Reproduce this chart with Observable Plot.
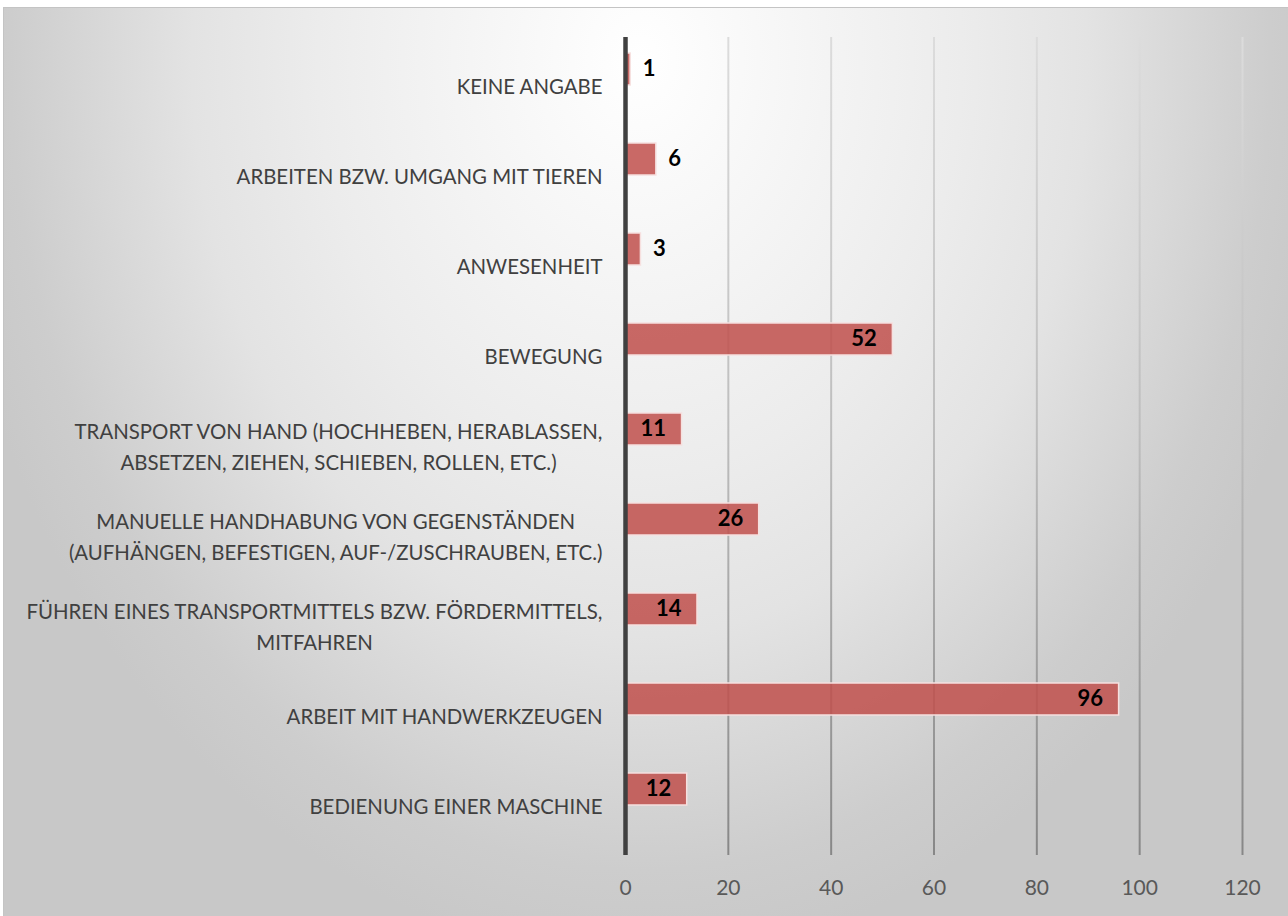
<!DOCTYPE html>
<html>
<head>
<meta charset="utf-8">
<script src="https://cdn.jsdelivr.net/npm/d3@7"></script>
<script src="https://cdn.jsdelivr.net/npm/@observablehq/plot@0.6"></script>
<style>
  html, body { margin: 0; padding: 0; background: #ffffff; overflow: hidden; }
  #frame {
    position: absolute; left: 3px; top: 7px; width: 1285px; height: 909px;
    border-top: 1px solid #c4c4c4; border-left: 1px solid #c4c4c4;
    background: radial-gradient(ellipse 700px 900px at 636px 52px, #ffffff 0%, #ececec 46%, #e3e3e3 64%, #cdcdcd 90%, #c8c8c8 100%);
  }
  #frame svg { display: block; background: transparent; }
</style>
</head>
<body>
<div id="frame"></div>
<script>
// Categories, top to bottom
const categories = [
  "KEINE ANGABE",
  "ARBEITEN BZW. UMGANG MIT TIEREN",
  "ANWESENHEIT",
  "BEWEGUNG",
  "TRANSPORT VON HAND (HOCHHEBEN, HERABLASSEN,\nABSETZEN, ZIEHEN, SCHIEBEN, ROLLEN, ETC.)",
  "MANUELLE HANDHABUNG VON GEGENSTÄNDEN\n(AUFHÄNGEN, BEFESTIGEN, AUF-/ZUSCHRAUBEN, ETC.)",
  "FÜHREN EINES TRANSPORTMITTELS BZW. FÖRDERMITTELS,\nMITFAHREN",
  "ARBEIT MIT HANDWERKZEUGEN",
  "BEDIENUNG EINER MASCHINE"
];
const values = [1, 6, 3, 52, 11, 26, 14, 96, 12];
const xTicks = [0, 20, 40, 60, 80, 100, 120];
const gridTicks = [20, 40, 60, 80, 100, 120];

const data = categories.map((c, i) => ({cat: c, value: values[i]}));
const FONT = "Lato, 'Open Sans', sans-serif";

const W = 1284, H = 908;
const M = {top: 29, right: 46, bottom: 61, left: 621};

const defsMark = (index, scales, vals, dims) => {
  const defs = d3.create("svg:defs");
  const g = defs.append("linearGradient")
    .attr("id", "gridGrad")
    .attr("gradientUnits", "userSpaceOnUse")
    .attr("x1", 0).attr("x2", 0)
    .attr("y1", dims.marginTop).attr("y2", dims.height - dims.marginBottom);
  g.append("stop").attr("offset", "0%").attr("stop-color", "#dcdcdc");
  g.append("stop").attr("offset", "50%").attr("stop-color", "#bcbcbc");
  g.append("stop").attr("offset", "100%").attr("stop-color", "#878787");
  return defs.node();
};

const chart = Plot.plot({
  width: W,
  height: H,
  marginTop: M.top,
  marginRight: M.right,
  marginBottom: M.bottom,
  marginLeft: M.left,
  style: {background: "transparent", fontFamily: FONT},
  x: {domain: [0, 120], ticks: xTicks},
  y: {domain: categories, padding: 0},
  marks: [
    defsMark,
    Plot.ruleX(gridTicks, {stroke: "url(#gridGrad)", strokeWidth: 2}),
    Plot.barX(data, {
      y: "cat", x: "value",
      fill: "#c0504d", fillOpacity: 0.86,
      stroke: "#f6e0df", strokeWidth: 1.5,
      insetTop: 12, insetBottom: 46
    }),
    Plot.ruleX([0], {stroke: "#404040", strokeWidth: 4.5}),
    Plot.text(data.filter(d => d.value >= 10), {
      y: "cat", x: "value", text: d => String(d.value),
      dy: -18, dx: -16, textAnchor: "end",
      fontSize: 22, fontWeight: "bold", fill: "#000000", fontFamily: FONT
    }),
    Plot.text(data.filter(d => d.value < 10), {
      y: "cat", x: "value", text: d => String(d.value),
      dy: -18, dx: 12, textAnchor: "start",
      fontSize: 22, fontWeight: "bold", fill: "#000000", fontFamily: FONT
    }),
    Plot.axisY({
      tickSize: 0, tickPadding: 23, label: null, dy: -2,
      fontSize: 20.4, fill: "#404040", lineHeight: 1.5, fontFamily: FONT
    }),
    Plot.axisX({
      ticks: xTicks, tickSize: 0, tickPadding: 25, label: null,
      fontSize: 21, fill: "#595959", fontFamily: FONT
    })
  ]
});

document.getElementById("frame").appendChild(chart);

// Center the lines of multi-line category labels within their right-aligned block
d3.select(chart).selectAll("g[aria-label='y-axis tick label'] text").each(function() {
  const tspans = this.querySelectorAll("tspan");
  if (tspans.length < 2) return;
  let maxW = 0;
  tspans.forEach(t => { maxW = Math.max(maxW, t.getComputedTextLength()); });
  this.setAttribute("text-anchor", "middle");
  tspans.forEach(t => t.setAttribute("x", -maxW / 2));
});
</script>
</body>
</html>
